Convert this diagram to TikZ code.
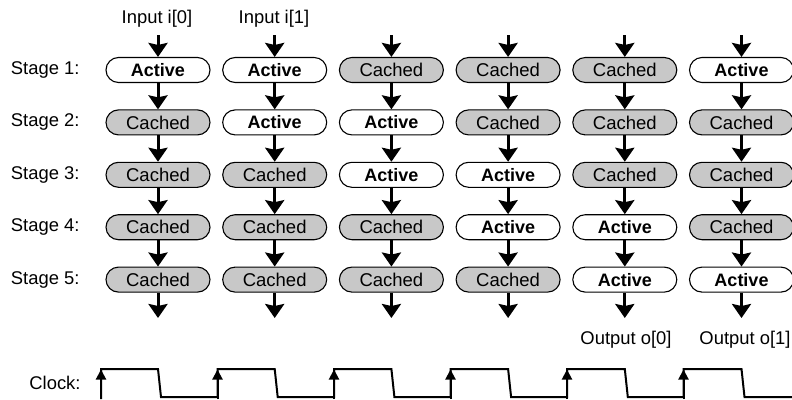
\documentclass[tikz,border=0pt]{standalone}
\usepackage{fontspec}
\setmainfont{Liberation Sans}
\usetikzlibrary{shapes.misc,arrows.meta}
\definecolor{cachedgray}{RGB}{200,200,200}
\begin{document}
\begin{tikzpicture}[x=1pt,y=-1pt,
  cell/.style={rounded rectangle, draw=black, line width=1.1pt,
    minimum width=104pt, minimum height=25pt, inner sep=0pt},
  actnode/.style={cell, fill=white, font=\fontsize{18}{21}\selectfont\bfseries,
    node contents=Active},
  cacnode/.style={cell, fill=cachedgray, font=\fontsize{18.5}{21}\selectfont,
    node contents=Cached},
  flow/.style={line width=3pt, -{Stealth[width=19pt,length=14pt,inset=2pt]}},
  lbl/.style={font=\fontsize{18.4}{21}\selectfont},
  clkline/.style={line width=2pt, line join=miter},
  rise/.style={line width=2pt, -{Triangle[width=10pt,length=10pt]}}
]
\useasboundingbox (0,0) rectangle (792,399);

% pipeline grid: one row per stage, one column per cycle
\foreach \r/\states in {
  1/{actnode,actnode,cacnode,cacnode,cacnode,actnode},
  2/{cacnode,actnode,actnode,cacnode,cacnode,cacnode},
  3/{cacnode,cacnode,actnode,actnode,cacnode,cacnode},
  4/{cacnode,cacnode,cacnode,actnode,actnode,cacnode},
  5/{cacnode,cacnode,cacnode,cacnode,actnode,actnode}} {
  \pgfmathsetmacro\yy{70+52.4*(\r-1)}
  \node[lbl, anchor=east] (st-\r) at (83,\yy) {Stage \r:};
  \foreach \s [count=\c] in \states {
    \pgfmathsetmacro\xx{158+116.7*(\c-1)}
    \node (n-\r-\c) at (\xx,\yy) [\s];
  }
}

% arrows between stages
\foreach \r [evaluate=\r as \rn using int(\r+1)] in {1,...,4}
  \foreach \c in {1,...,6}
    \draw[flow] (n-\r-\c.south) -- (n-\rn-\c.north);

% arrows into the first stage and out of the last
\foreach \c in {1,...,6} {
  \pgfmathsetmacro\xx{158+116.7*(\c-1)}
  \coordinate (in-\c) at (\xx,35);
  \coordinate (out-\c) at (\xx,318);
  \draw[flow] (in-\c) -- (n-1-\c.north);
  \draw[flow] (n-5-\c.south) -- (out-\c);
}

% input and output labels
\node[lbl] (inp-0) at (157,19) {Input i[0]};
\node[lbl] (inp-1) at (274,19) {Input i[1]};
\node[lbl] (outp-0) at (626,340) {Output o[0]};
\node[lbl] (outp-1) at (745,340) {Output o[1]};

% clock waveform
\node[lbl] (clk) at (55,383) {Clock:};
\draw[clkline] (101,399) -- (101,369)
  \foreach \k in {0,...,5} {
    -- ({101+116.5*\k},369) -- ({158+116.7*\k},369)
    -- ({161+116.7*\k},397) -- ({101+116.5*(\k+1)},397) -- ({101+116.5*(\k+1)},369)
  };
\foreach \k in {0,...,5}
  \draw[rise] ({101+116.5*\k},399) -- ({101+116.5*\k},369.5);
\end{tikzpicture}
\end{document}
